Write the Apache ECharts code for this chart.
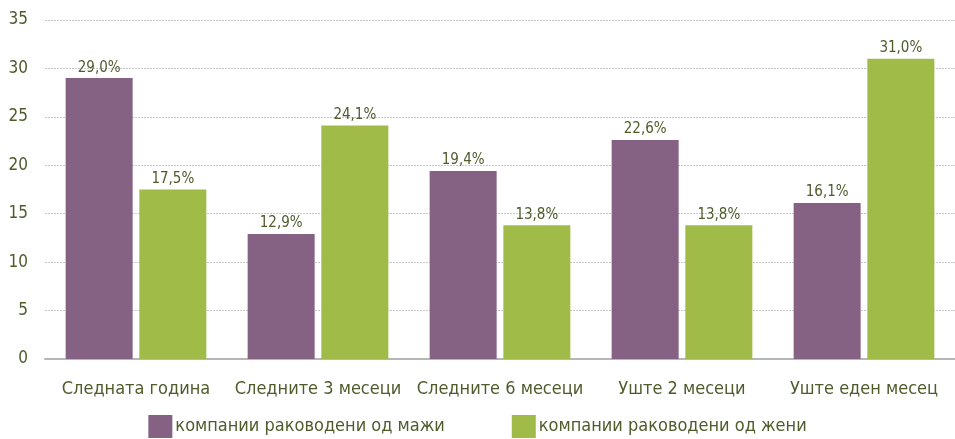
<!DOCTYPE html>
<html>
<head>
<meta charset="utf-8">
<script src="https://cdn.jsdelivr.net/npm/echarts@6/dist/echarts.min.js"></script>
<style>
  html, body { margin: 0; padding: 0; background: #fff; }
  #chart { width: 955px; height: 439px; }
</style>
</head>
<body>
<div id="chart"></div>
<script>
// Periods asked about
const categories = ['Следната година', 'Следните 3 месеци', 'Следните 6 месеци', 'Уште 2 месеци', 'Уште еден месец'];
// Share of companies (%), by who runs them
const menLed = [29.0, 12.9, 19.4, 22.6, 16.1];
const womenLed = [17.5, 24.1, 13.8, 13.8, 31.0];
const seriesNames = ['компании раководени од мажи', 'компании раководени од жени'];
// Value axis ticks
const yTicks = [0, 5, 10, 15, 20, 25, 30, 35];

const FONT = "'Liberation Sans Narrow', 'DejaVu Sans Condensed', 'Roboto', sans-serif";
const TEXT = '#4e5c2c';

const chart = echarts.init(document.getElementById('chart'));
const fmt = v => v.value.toFixed(1).replace('.', ',') + '%';

chart.setOption({
  animation: false,
  textStyle: { fontFamily: FONT },
  grid: { left: 45, right: 0, top: 20, bottom: 80 },
  legend: {
    bottom: 1,
    left: 'center',
    padding: 0,
    itemWidth: 24,
    itemHeight: 23,
    itemGap: 67,
    icon: 'rect',
    textStyle: { fontFamily: FONT, fontSize: 18, color: TEXT, padding: [0, 0, 0, -2] },
    data: seriesNames
  },
  xAxis: {
    type: 'category',
    data: categories,
    axisTick: { show: false },
    axisLine: { lineStyle: { color: '#b4b8b4', width: 2 } },
    axisLabel: { fontFamily: FONT, fontSize: 18, color: TEXT, margin: 21, interval: 0 }
  },
  yAxis: {
    type: 'value',
    min: yTicks[0],
    max: yTicks[yTicks.length - 1],
    interval: 5,
    axisLine: { show: false },
    axisTick: { show: false },
    axisLabel: { fontFamily: FONT, fontSize: 17, color: TEXT, margin: 17 },
    splitLine: { lineStyle: { color: '#c8c8c8', type: [2, 1], width: 1 } }
  },
  series: [
    {
      name: seriesNames[0],
      type: 'bar',
      data: menLed,
      barWidth: 67,
      barGap: '10%',
      itemStyle: { color: '#856283' },
      label: { show: true, position: 'top', formatter: fmt, fontFamily: FONT, fontSize: 15, color: TEXT, distance: 3 }
    },
    {
      name: seriesNames[1],
      type: 'bar',
      data: womenLed,
      barWidth: 67,
      itemStyle: { color: '#a0bb48' },
      label: { show: true, position: 'top', formatter: fmt, fontFamily: FONT, fontSize: 15, color: TEXT, distance: 3 }
    }
  ]
});
</script>
</body>
</html>
